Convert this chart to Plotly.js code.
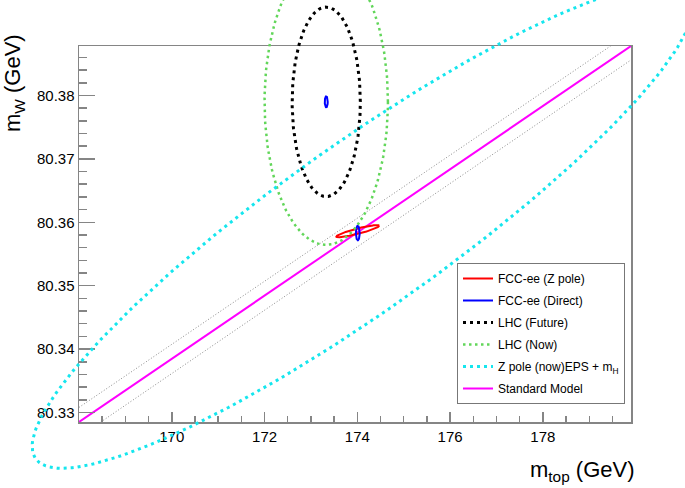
<!DOCTYPE html>
<html>
<head>
<meta charset="utf-8">
<script src="https://cdn.plot.ly/plotly-3.0.1.min.js"></script>
<style>html,body{margin:0;padding:0;background:#fff;}#chart{width:685px;height:488px;}</style>
</head>
<body>
<div id="chart"></div>
<script>
// ---- data ----
// frame axis ranges (GeV)
var mtRange = [168.0, 179.9];
var mwRange = [80.3285, 80.3878];
var xTickVals = [170, 172, 174, 176, 178];
var xTickText = ["170", "172", "174", "176", "178"];
var yTickVals = [80.33, 80.34, 80.35, 80.36, 80.37, 80.38];
var yTickText = ["80.33", "80.34", "80.35", "80.36", "80.37", "80.38"];

// Standard Model line and its band edges
var smMt = [168.0, 174.0, 179.9];
var smMw = [80.3285, 80.3584, 80.3878];
var bandUpMt = [168.0, 179.46];
var bandUpMw = [80.3308, 80.3878];
var bandLoMt = [168.47, 179.9];
var bandLoMw = [80.3285, 80.3856];

// error ellipses: centre, half extent in mt and mW, correlation
var ellName   = ["FCC-ee (Z pole)", "FCC-ee (Direct)", "FCC-ee (Direct)", "LHC (Future)", "LHC (Now)", "Z pole (now)EPS + m<sub>H</sub>"];
var ellMt     = [174.01, 173.33, 174.01, 173.33, 173.33, 174.12];
var ellMw     = [80.3586, 80.3790, 80.3583, 80.3790, 80.3790, 80.3594];
var ellSigMt  = [0.463, 0.032, 0.041, 0.735, 1.33, 7.13];
var ellSigMw  = [0.00095, 0.00087, 0.00115, 0.01494, 0.02256, 0.0382];
var ellRho    = [0.89, 0, 0, 0, 0, 0.91];

// ---- styling ----
var ellColor = ["#ff0000", "#0000ff", "#0000ff", "#000000", "#62d65a", "#16e6ee"];
var ellWidth = [2, 2, 2, 3, 2.5, 3];
var ellDash  = ["solid", "solid", "solid", "3px,4px", "2.5px,3.5px", "3px,4px"];
var ellGroup = ["g1", "g2", "g2", "g3", "g4", "g5"];
var ellShow  = [true, true, false, true, true, true];

var W = 685, H = 488;
var FL = 79, FR = 631, FT = 46, FB = 422;

var xs = (mtRange[1] - mtRange[0]) / (FR - FL);
var ys = (mwRange[1] - mwRange[0]) / (FB - FT);
var x2Range = [mtRange[0] - FL * xs, mtRange[1] + (W - FR) * xs];
var y2Range = [mwRange[0] - (H - FB) * ys, mwRange[1] + FT * ys];

function contour(i) {
  var xs_ = [], ys_ = [], n = 240;
  var r = ellRho[i], q = Math.sqrt(1 - r * r);
  for (var k = 0; k <= n; k++) {
    var t = 2 * Math.PI * k / n;
    xs_.push(ellMt[i] + ellSigMt[i] * Math.cos(t));
    ys_.push(ellMw[i] + ellSigMw[i] * (r * Math.cos(t) + q * Math.sin(t)));
  }
  return [xs_, ys_];
}

var traces = [];
for (var i = 0; i < ellName.length; i++) {
  var c = contour(i);
  traces.push({
    x: c[0], y: c[1], xaxis: 'x2', yaxis: 'y2', type: 'scatter', mode: 'lines',
    name: ellName[i], legendgroup: ellGroup[i], showlegend: ellShow[i],
    line: {color: ellColor[i], width: ellWidth[i], dash: ellDash[i]},
    hoverinfo: 'skip'
  });
}
traces.push({
  x: smMt, y: smMw, xaxis: 'x', yaxis: 'y', type: 'scatter', mode: 'lines',
  name: 'Standard Model', legendgroup: 'g6',
  line: {color: '#ff00ff', width: 2}, hoverinfo: 'skip'
});
traces.push({
  x: bandUpMt, y: bandUpMw, xaxis: 'x', yaxis: 'y', type: 'scatter', mode: 'lines',
  showlegend: false, line: {color: '#8a8a8a', width: 1, dash: '1px,2px'}, hoverinfo: 'skip'
});
traces.push({
  x: bandLoMt, y: bandLoMw, xaxis: 'x', yaxis: 'y', type: 'scatter', mode: 'lines',
  showlegend: false, line: {color: '#8a8a8a', width: 1, dash: '1px,2px'}, hoverinfo: 'skip'
});

var frameCol = '#858585';
var font = 'Liberation Sans, Arial, Helvetica, sans-serif';

var layout = {
  width: W, height: H,
  margin: {l: 0, r: 0, t: 0, b: 0, pad: 0},
  paper_bgcolor: '#ffffff', plot_bgcolor: 'rgba(0,0,0,0)',
  font: {family: font, color: '#000'},
  showlegend: true,
  xaxis: {
    domain: [FL / W, FR / W], range: mtRange, anchor: 'y',
    showline: true, mirror: true, linecolor: frameCol, linewidth: 1.5,
    showgrid: false, zeroline: false,
    ticks: 'inside', ticklen: 10, tickwidth: 1.5, tickcolor: frameCol,
    tickvals: xTickVals, ticktext: xTickText,
    tickfont: {size: 15, family: font, color: '#000'},
    minor: {dtick: 0.5, tick0: 168, ticks: 'inside', ticklen: 6, tickwidth: 1.5, tickcolor: frameCol, showgrid: false},
    automargin: false, fixedrange: true
  },
  yaxis: {
    domain: [(H - FB) / H, (H - FT) / H], range: mwRange, anchor: 'x',
    showline: true, mirror: true, linecolor: frameCol, linewidth: 1.5,
    showgrid: false, zeroline: false,
    ticks: 'inside', ticklen: 16, tickwidth: 1.5, tickcolor: frameCol,
    tickvals: yTickVals, ticktext: yTickText,
    tickfont: {size: 15, family: font, color: '#000'},
    minor: {dtick: 0.002, tick0: 80.33, ticks: 'inside', ticklen: 8, tickwidth: 1.5, tickcolor: frameCol, showgrid: false},
    automargin: false, fixedrange: true
  },
  xaxis2: {domain: [0, 1], range: x2Range, anchor: 'y2', visible: false, fixedrange: true},
  yaxis2: {domain: [0, 1], range: y2Range, anchor: 'x2', visible: false, fixedrange: true},
  legend: {
    x: 457 / W, y: (H - 263) / H, xanchor: 'left', yanchor: 'top',
    bgcolor: '#ffffff', bordercolor: '#777777', borderwidth: 1,
    font: {size: 12, family: font, color: '#000'},
    traceorder: 'grouped', tracegroupgap: 3, itemwidth: 30
  },
  annotations: [
    {xref: 'paper', yref: 'paper', x: 637 / W, y: (H - 471) / H, xanchor: 'right', yanchor: 'middle',
     text: 'm<sub>top</sub> (GeV)', showarrow: false, font: {size: 22, family: font, color: '#000'}},
    {xref: 'paper', yref: 'paper', x: 14 / W, y: (H - 32) / H, xanchor: 'center', yanchor: 'top',
     text: 'm<sub>W</sub> (GeV)', textangle: -90, showarrow: false, font: {size: 22, family: font, color: '#000'}}
  ]
};

Plotly.newPlot('chart', traces, layout, {displayModeBar: false, staticPlot: true});
</script>
</body>
</html>
